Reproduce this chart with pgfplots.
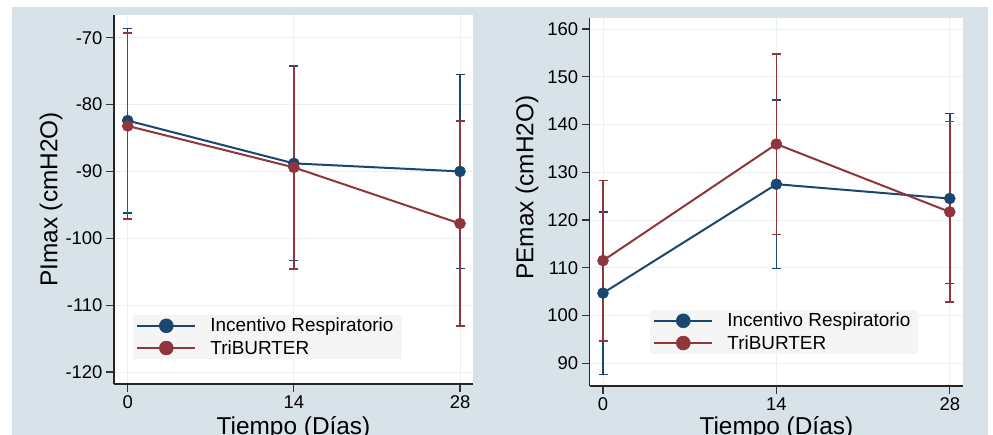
\documentclass[border=0pt]{standalone}
\usepackage{fontspec}
\setmainfont{Liberation Sans}
\usepackage{pgfplots}
\pgfplotsset{compat=1.18}
\definecolor{sbg}{RGB}{216,226,233}
\definecolor{snavy}{RGB}{26,71,111}
\definecolor{smaroon}{RGB}{144,53,59}
\definecolor{sgrid}{RGB}{234,239,242}
\pgfplotsset{
 stata/.style={
  scale only axis,
  axis x line*=bottom, axis y line*=left,
  axis line style={line width=1.4bp, black!85, -},
  tick align=outside, major tick length=8bp,
  tick style={line width=1.2bp, black!80},
  grid=major, major grid style={sgrid, line width=0.8bp},
  xtick={0,14,28},
  ticklabel style={font=\fontsize{18.5}{20}\selectfont},
  label style={font=\fontsize{24.5}{26}\selectfont},
  /pgf/number format/assume math mode=true,
  axis background/.style={fill=white},
  legend style={draw=none, fill=white!96!black, font=\fontsize{19}{21}\selectfont,
    anchor=north west, row sep=5bp, inner xsep=3bp, inner ysep=2bp,
    nodes={inner ysep=1bp, inner xsep=5bp},
    /tikz/every odd column/.append style={column sep=9bp}},
  legend cell align=left,
  legend image code/.code={\draw[line width=2.2bp, mark size=7bp, mark repeat=2,mark phase=2] plot coordinates {(0bp,0bp) (29bp,0bp) (58bp,0bp)};},
 },
 sblue/.style={snavy, line width=2bp, mark=*, mark size=5.5bp, mark options={solid, line width=0.5bp},
   error bars/.cd, y dir=both, y explicit,
   error bar style={snavy, line width=1.5bp},
   error mark options={rotate=90, mark size=4.5bp, line width=1.5bp, snavy}},
 sred/.style={smaroon, line width=2bp, mark=*, mark size=5.5bp, mark options={solid, line width=0.5bp},
   error bars/.cd, y dir=both, y explicit,
   error bar style={smaroon, line width=1.5bp},
   error mark options={rotate=90, mark size=4.5bp, line width=1.5bp, smaroon}},
}
\begin{document}
\begin{tikzpicture}[x=1bp,y=1bp]
\useasboundingbox (0,0) rectangle (993,435);
\fill[sbg] (12,0) rectangle (988,428);
% Left panel
\begin{axis}[stata,
  at={(114bp,51bp)}, anchor=south west,
  width=359bp, height=369bp,
  xmin=-1.154, xmax=29.095, ymin=-121.79, ymax=-66.61,
  ytick={-120,-110,-100,-90,-80,-70},
  xlabel={Tiempo (Días)}, ylabel={PImax (cmH2O)},
  xlabel style={at={(axis description cs:0.5,-0.137)}, anchor=base},
  ylabel style={at={(axis description cs:-0.1755,0.5)}, anchor=center},
  legend style={at={(0.053,0.187)}},
]
\addplot[sblue] coordinates {(0,-82.4) +- (0,13.8) (14,-88.8) +- (0,14.55) (28,-90.0) +- (0,14.5)};
\addlegendentry{Incentivo Respiratorio}
\addplot[sred] coordinates {(0,-83.2) +- (0,13.9) (14,-89.4) +- (0,15.2) (28,-97.8) +- (0,15.35)};
\addlegendentry{TriBURTER}
\end{axis}
% Right panel
\begin{axis}[stata,
  at={(589.7bp,49bp)}, anchor=south west,
  width=373.3bp, height=368bp,
  xmin=-1.074, xmax=29.07, ymin=85.25, ymax=162.3,
  ytick={90,100,110,120,130,140,150,160},
  xlabel={Tiempo (Días)}, ylabel={PEmax (cmH2O)},
  xlabel style={at={(axis description cs:0.5,-0.132)}, anchor=base},
  ylabel style={at={(axis description cs:-0.168,0.539)}, anchor=center},
  legend style={at={(0.1615,0.2065)}},
]
\addplot[sblue] coordinates {(0,104.7) +- (0,17.0) (14,127.5) +- (0,17.6) (28,124.5) +- (0,17.8)};
\addlegendentry{Incentivo Respiratorio}
\addplot[sred] coordinates {(0,111.5) +- (0,16.8) (14,135.9) +- (0,18.9) (28,121.7) +- (0,18.9)};
\addlegendentry{TriBURTER}
\end{axis}
\end{tikzpicture}
\end{document}
